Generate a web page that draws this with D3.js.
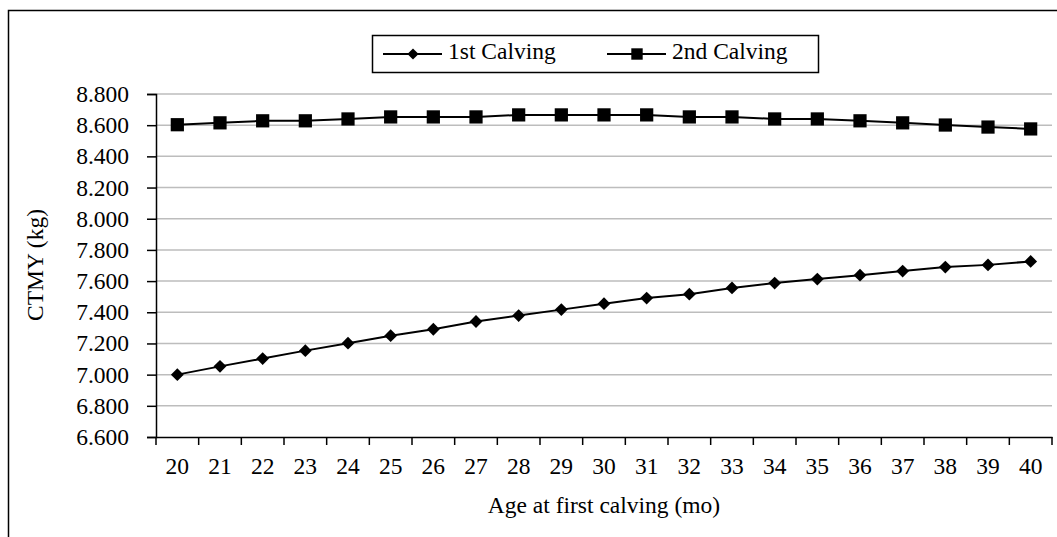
<!DOCTYPE html>
<html>
<head>
<meta charset="utf-8">
<script src="https://cdn.jsdelivr.net/npm/d3@7"></script>
<style>
  body { margin: 0; background: #fff; }
</style>
</head>
<body>
<div id="chart"></div>
<script>
const width = 1057;
const height = 537;

const ages = [20, 21, 22, 23, 24, 25, 26, 27, 28, 29, 30, 31, 32, 33, 34, 35, 36, 37, 38, 39, 40];
const firstCalving = [7.000, 7.053, 7.103, 7.154, 7.202, 7.250, 7.291, 7.341, 7.379, 7.417, 7.455,
  7.491, 7.516, 7.556, 7.587, 7.613, 7.638, 7.664, 7.690, 7.704, 7.726];
const secondCalving = [8.603, 8.615, 8.628, 8.628, 8.640, 8.653, 8.653, 8.653, 8.666, 8.666, 8.666,
  8.666, 8.653, 8.653, 8.640, 8.640, 8.628, 8.615, 8.601, 8.588, 8.576];
const yTicks = [6.6, 6.8, 7.0, 7.2, 7.4, 7.6, 7.8, 8.0, 8.2, 8.4, 8.6, 8.8];

const margin = { top: 94, right: 5, bottom: 100, left: 156 };
const fontSize = 23.5;
const font = "'Liberation Serif', 'DejaVu Serif', serif";

const svg = d3.select("#chart")
  .append("svg")
  .attr("width", width)
  .attr("height", height)
  .attr("font-family", font);

// outer chart border (runs off the right and bottom of the picture)
svg.append("rect")
  .attr("x", 8.5)
  .attr("y", 10.5)
  .attr("width", 1100)
  .attr("height", 600)
  .attr("fill", "none")
  .attr("stroke", "#000")
  .attr("stroke-width", 1.5);

const x = d3.scaleBand()
  .domain(ages)
  .range([margin.left, width - margin.right]);

const y = d3.scaleLinear()
  .domain([6.6, 8.8])
  .range([height - margin.bottom, margin.top]);

// gridlines
svg.append("g")
  .selectAll("line")
  .data(yTicks.filter(d => d > 6.6))
  .enter()
  .append("line")
  .attr("x1", margin.left)
  .attr("x2", width - margin.right)
  .attr("y1", d => y(d))
  .attr("y2", d => y(d))
  .attr("stroke", "#bdbdbd")
  .attr("stroke-width", 1.5);

// y axis
const yAxis = svg.append("g")
  .attr("transform", `translate(${margin.left},0)`)
  .call(d3.axisLeft(y).tickValues(yTicks).tickFormat(d3.format(".3f")).tickSize(9).tickPadding(18));

// x axis, ticks sit on the category boundaries
const xAxis = svg.append("g")
  .attr("transform", `translate(0,${height - margin.bottom})`)
  .call(d3.axisBottom(x).tickSize(0).tickPadding(20));

xAxis.selectAll(".boundary")
  .data(d3.range(ages.length + 1))
  .enter()
  .append("line")
  .attr("class", "boundary")
  .attr("x1", i => margin.left + i * x.step())
  .attr("x2", i => margin.left + i * x.step())
  .attr("y1", 0)
  .attr("y2", 8)
  .attr("stroke", "#000")
  .attr("stroke-width", 1.5);

[yAxis, xAxis].forEach(g => {
  g.attr("font-family", font).attr("font-size", fontSize);
  g.selectAll("path.domain").attr("stroke", "#000").attr("stroke-width", 1.5);
  g.selectAll(".tick line").attr("stroke", "#000").attr("stroke-width", 1.5);
  g.selectAll("text").attr("fill", "#000");
});

// axis titles
svg.append("text")
  .attr("x", (margin.left + width - margin.right) / 2)
  .attr("y", 508)
  .attr("text-anchor", "middle")
  .attr("dominant-baseline", "middle")
  .attr("font-size", fontSize)
  .text("Age at first calving (mo)");

svg.append("text")
  .attr("transform", "translate(38,265) rotate(-90)")
  .attr("text-anchor", "middle")
  .attr("dominant-baseline", "middle")
  .attr("font-size", fontSize)
  .text("CTMY (kg)");

const cx = d => x(d) + x.bandwidth() / 2;
const line = d3.line()
  .x((d, i) => cx(ages[i]))
  .y(d => y(d));

const diamond = d3.symbol().type(d3.symbolDiamond2).size(105);
const square = d3.symbol().type(d3.symbolSquare).size(175);

const series = [
  { name: "1st Calving", values: firstCalving, symbol: diamond },
  { name: "2nd Calving", values: secondCalving, symbol: square }
];

series.forEach(s => {
  svg.append("path")
    .datum(s.values)
    .attr("fill", "none")
    .attr("stroke", "#000")
    .attr("stroke-width", 2)
    .attr("d", line);

  svg.append("g")
    .selectAll("path")
    .data(s.values)
    .enter()
    .append("path")
    .attr("transform", (d, i) => `translate(${cx(ages[i])},${y(d)})`)
    .attr("d", s.symbol)
    .attr("fill", "#000");
});

// legend
const legend = svg.append("g");
legend.append("rect")
  .attr("x", 372.5)
  .attr("y", 35.5)
  .attr("width", 446)
  .attr("height", 37)
  .attr("fill", "#fff")
  .attr("stroke", "#000")
  .attr("stroke-width", 1.5);

const legendItems = [
  { name: series[0].name, x0: 383, symbol: d3.symbol().type(d3.symbolDiamond2).size(80) },
  { name: series[1].name, x0: 607, symbol: d3.symbol().type(d3.symbolSquare).size(130) }
];

legendItems.forEach(item => {
  legend.append("line")
    .attr("x1", item.x0)
    .attr("x2", item.x0 + 59)
    .attr("y1", 54)
    .attr("y2", 54)
    .attr("stroke", "#000")
    .attr("stroke-width", 2);
  legend.append("path")
    .attr("transform", `translate(${item.x0 + 30},54)`)
    .attr("d", item.symbol)
    .attr("fill", "#000");
  legend.append("text")
    .attr("x", item.x0 + 65)
    .attr("y", 54)
    .attr("dominant-baseline", "middle")
    .attr("font-size", fontSize)
    .text(item.name);
});
</script>
</body>
</html>
